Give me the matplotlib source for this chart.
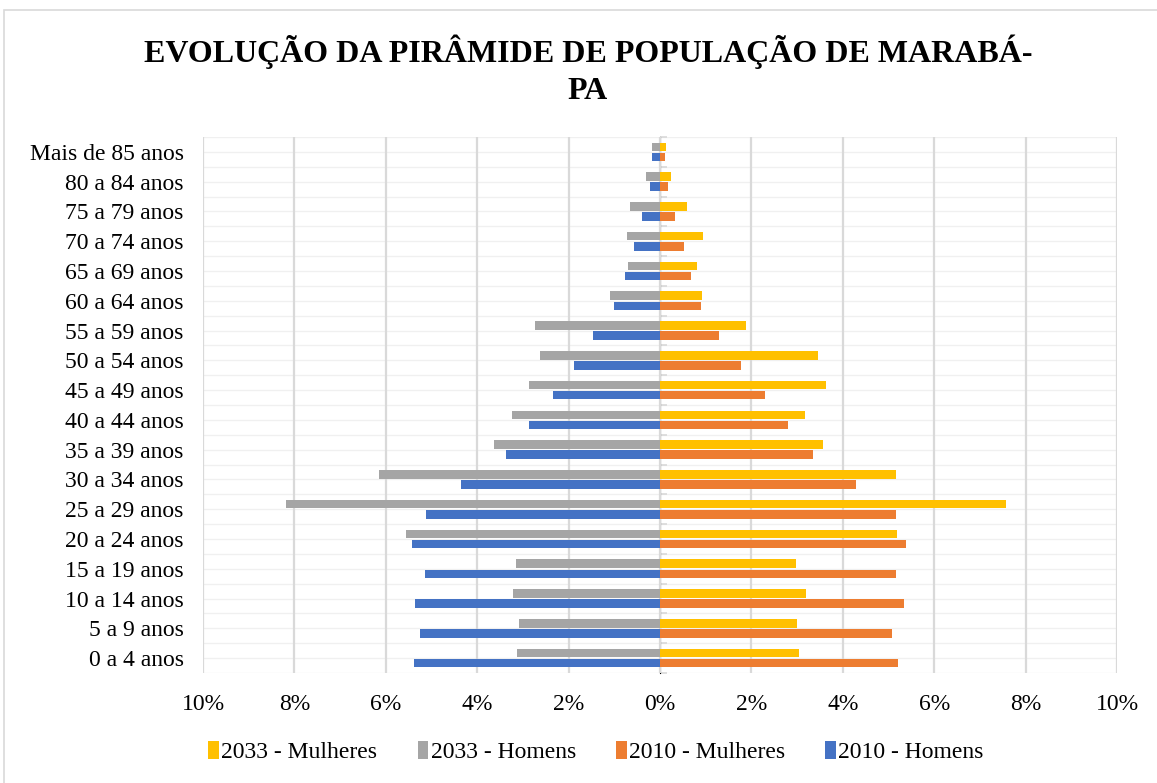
import matplotlib.pyplot as plt
import numpy as np
from matplotlib.ticker import FuncFormatter
from matplotlib.patches import Rectangle

# dados (em % da populacao), de baixo para cima
faixas = ['0 a 4 anos', '5 a 9 anos', '10 a 14 anos', '15 a 19 anos',
          '20 a 24 anos', '25 a 29 anos', '30 a 34 anos', '35 a 39 anos',
          '40 a 44 anos', '45 a 49 anos', '50 a 54 anos', '55 a 59 anos',
          '60 a 64 anos', '65 a 69 anos', '70 a 74 anos', '75 a 79 anos',
          '80 a 84 anos', 'Mais de 85 anos']
mulheres_2033 = [3.04, 3.00, 3.20, 2.98, 5.19, 7.58, 5.17, 3.56, 3.17,
                 3.64, 3.46, 1.89, 0.91, 0.81, 0.95, 0.58, 0.23, 0.13]
homens_2033 = [3.14, 3.09, 3.21, 3.16, 5.55, 8.18, 6.15, 3.64, 3.24,
               2.87, 2.63, 2.74, 1.09, 0.69, 0.73, 0.65, 0.31, 0.17]
mulheres_2010 = [5.20, 5.07, 5.34, 5.17, 5.38, 5.17, 4.28, 3.35, 2.81,
                 2.29, 1.77, 1.30, 0.90, 0.67, 0.52, 0.33, 0.17, 0.10]
homens_2010 = [5.38, 5.26, 5.36, 5.14, 5.42, 5.13, 4.35, 3.38, 2.87,
               2.34, 1.88, 1.46, 1.00, 0.77, 0.56, 0.40, 0.22, 0.18]
x_ticks = [-10, -8, -6, -4, -2, 0, 2, 4, 6, 8, 10]

plt.rcParams['font.family'] = ['Liberation Serif', 'DejaVu Serif']

fig = plt.figure(figsize=(11.57, 7.83), dpi=100)
ax = fig.add_axes([203 / 1157, 1 - 673 / 783, 914 / 1157, 536 / 783])

# borda do grafico
fig.patches.append(Rectangle((4 / 1157, -0.02), 1.1, 1 - 10 / 783 + 0.02,
                             transform=fig.transFigure, fill=False,
                             edgecolor='#d9d9d9', lw=1.2))

y = np.arange(len(faixas))
h = 0.29
off = 0.17

ax.barh(y + off, mulheres_2033, height=h, color='#FFC000', label='2033 - Mulheres', zorder=3)
ax.barh(y + off, -np.array(homens_2033), height=h, color='#A5A5A5', label='2033 - Homens', zorder=3)
ax.barh(y - off, mulheres_2010, height=h, color='#ED7D31', label='2010 - Mulheres', zorder=3)
ax.barh(y - off, -np.array(homens_2010), height=h, color='#4472C4', label='2010 - Homens', zorder=3)

ax.set_xlim(-10, 10)
ax.set_ylim(-0.5, len(faixas) - 0.5)

# linhas de grade
for v in x_ticks:
    ax.axvline(v, color='#d9d9d9', lw=1.6, zorder=1)
for v in np.arange(-0.5, len(faixas), 0.5):
    ax.axhline(v, color='#f0f0f0', lw=1, zorder=0)

ax.set_xticks(x_ticks)
ax.xaxis.set_major_formatter(FuncFormatter(lambda v, p: f'{abs(v):.0f}%'))
ax.set_yticks(y)
ax.set_yticklabels(faixas)
ax.tick_params(axis='y', length=0, pad=14, labelsize=17)
ax.tick_params(axis='x', length=0, pad=15, labelsize=17)
for s in ax.spines.values():
    s.set_visible(False)

# eixo de categorias no zero
sec = ax.secondary_yaxis(0.5)
sec.set_yticks(np.arange(-0.5, len(faixas), 1))
sec.set_yticklabels([])
sec.tick_params(length=5, color='#d9d9d9', width=1.2)
sec.spines['left'].set_color('#d9d9d9')
sec.spines['left'].set_linewidth(1.6)

fig.text(588 / 1157, 1 - 70 / 783, 'EVOLUÇÃO DA PIRÂMIDE DE POPULAÇÃO DE MARABÁ-\nPA',
         ha='center', va='center', fontsize=23, fontweight='bold', linespacing=1.35)

leg = ax.legend(loc='center', bbox_to_anchor=(393 / 914, -0.148), ncol=4, frameon=False,
                fontsize=17, handlelength=0.45, handleheight=0.75, handletextpad=0.1,
                columnspacing=1.7)

fig.savefig('out.png', dpi=100)
